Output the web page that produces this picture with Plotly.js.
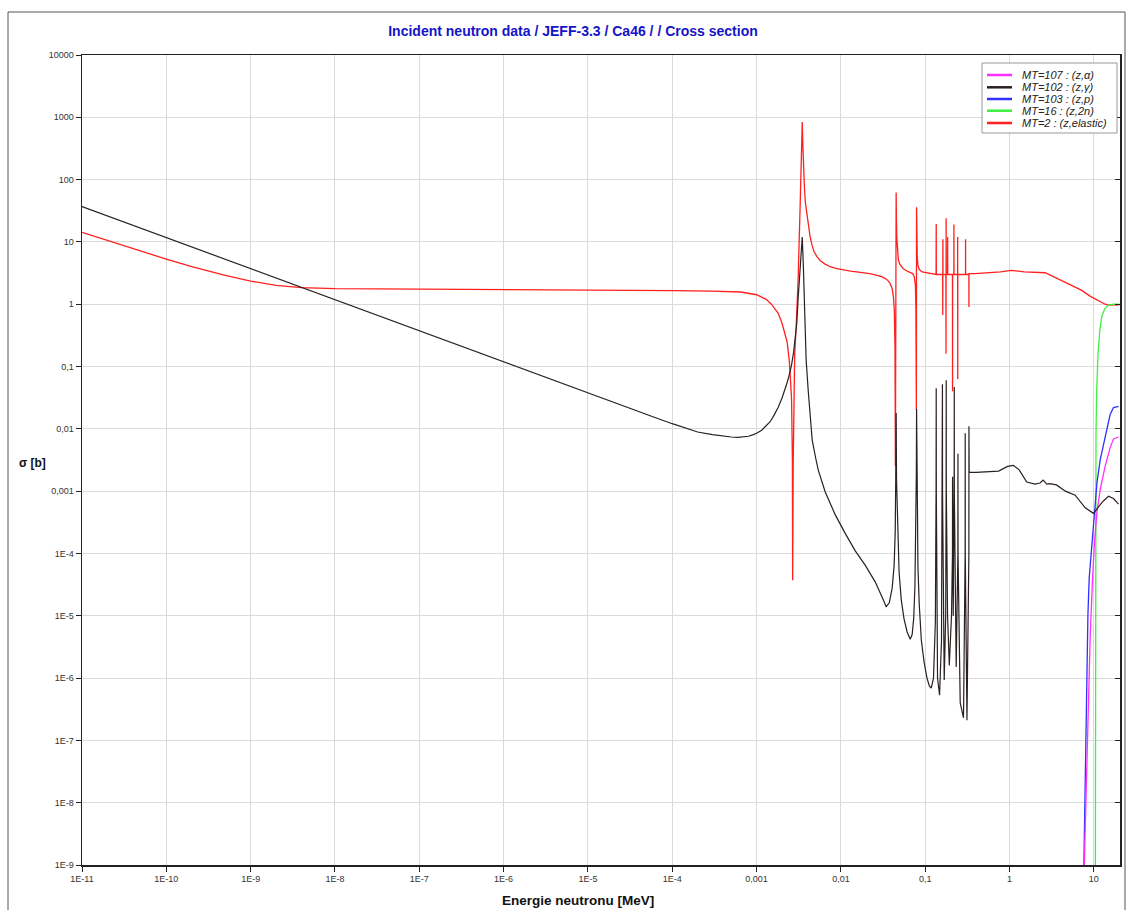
<!DOCTYPE html>
<html>
<head>
<meta charset="utf-8">
<script src="https://cdn.plot.ly/plotly-3.0.1.min.js"></script>
<style>html,body{margin:0;padding:0;background:#fff;}#chart{width:1130px;height:910px;}</style>
</head>
<body>
<div id="chart"></div>
<script>
// ---- Data (energy in MeV, cross section in barns) ----
const energyElastic = [1e-11, 2e-11, 5e-11, 1e-10, 2e-10, 5e-10, 1e-9, 2e-9, 4e-9, 1e-8,
  1e-7, 1e-6, 1e-5, 1e-4, 3e-4, 6.5e-4, 1e-3, 1.3e-3, 1.5e-3, 1.8e-3,
  2.0e-3, 2.3e-3, 2.45e-3, 2.6e-3, 2.66e-3, 2.68e-3, 2.72e-3, 2.76e-3, 2.83e-3, 2.95e-3,
  3.11e-3, 3.29e-3, 3.42e-3, 3.48e-3, 3.54e-3, 3.6e-3, 3.7e-3, 3.8e-3, 3.95e-3, 4.1e-3,
  4.3e-3, 4.55e-3, 4.8e-3, 5.2e-3, 5.7e-3, 6.5e-3, 7.5e-3, 8.7e-3, 0.01, 0.013,
  0.017, 0.022, 0.027, 0.031, 0.035, 0.038, 0.0405, 0.042, 0.043, 0.0438,
  0.0443, 0.0448, 0.0452, 0.0455, 0.046, 0.0468, 0.048, 0.05, 0.055, 0.06,
  0.066, 0.071, 0.074, 0.0765, 0.0775, 0.0785, 0.0790, 0.0795, 0.0805, 0.082,
  0.085, 0.092, 0.1345, 0.135, 0.1355, 0.161, 0.1615, 0.162, 0.1625, 0.176,
  0.1765, 0.177, 0.1775, 0.184, 0.1845, 0.185, 0.2105, 0.211, 0.2115, 0.2185,
  0.219, 0.2195, 0.242, 0.2425, 0.243, 0.2435, 0.3005, 0.301, 0.3015, 0.3295,
  0.33, 0.3305, 0.39, 0.78, 1.05, 1.5, 2.65, 4.0, 5.5, 7.2,
  9.0, 11.4, 13.6, 15.0, 20.0];
const sigmaElastic = [14.2, 10.5, 7.0, 5.3, 4.0, 2.9, 2.35, 2.0, 1.85, 1.78,
  1.75, 1.73, 1.7, 1.65, 1.62, 1.57, 1.42, 1.2, 1.0, 0.72,
  0.5, 0.25, 0.12, 0.03, 0.003, 3.7e-5, 0.003, 0.04, 0.15, 0.45,
  2.5, 40, 300, 840, 350, 160, 70, 42, 28, 18,
  12.5, 8.8, 7.0, 5.8, 5.0, 4.4, 4.0, 3.75, 3.6, 3.4,
  3.25, 3.1, 2.9, 2.75, 2.5, 2.2, 1.8, 1.3, 0.8, 0.2,
  0.0025, 5, 62, 25, 12, 7, 5.2, 4.4, 3.7, 3.45,
  3.3, 3.1, 2.8, 2.0, 0.9, 0.02, 36, 12, 5.5, 4.2,
  3.6, 3.3, 3.0, 19.4, 3.0, 3.0, 0.67, 11, 3.0, 3.0,
  0.16, 24, 3.0, 3.0, 12, 3.0, 3.0, 0.04, 3.0, 3.0,
  19, 3.0, 3.0, 12, 0.063, 3.0, 3.0, 11, 3.0, 3.0,
  0.9, 3.1, 3.1, 3.3, 3.5, 3.3, 3.2, 2.45, 2.0, 1.67,
  1.35, 1.13, 1.0, 0.97, 0.98];

const energyCapture = [1e-11, 1e-10, 1e-9, 1e-8, 1e-7, 1e-6, 1e-5, 3e-5, 6e-5, 1e-4,
  1.5e-4, 2e-4, 3e-4, 4e-4, 5e-4, 6e-4, 7e-4, 8e-4, 9e-4, 1e-3,
  1.15e-3, 1.3e-3, 1.45e-3, 1.6e-3, 1.8e-3, 2e-3, 2.15e-3, 2.3e-3, 2.45e-3, 2.6e-3,
  2.75e-3, 2.9e-3, 3.0e-3, 3.1e-3, 3.2e-3, 3.3e-3, 3.38e-3, 3.48e-3, 3.58e-3, 3.67e-3,
  3.87e-3, 4.09e-3, 4.3e-3, 4.57e-3, 5.0e-3, 5.38e-3, 6.52e-3, 8.55e-3, 0.01125, 0.0148,
  0.0194, 0.0255, 0.0318, 0.0344, 0.0374, 0.0406, 0.0428, 0.0441, 0.0447, 0.0452,
  0.0457, 0.0466, 0.0475, 0.049, 0.052, 0.056, 0.061, 0.0664, 0.070, 0.073,
  0.0755, 0.077, 0.0785, 0.079, 0.0798, 0.0805, 0.082, 0.085, 0.09, 0.097,
  0.105, 0.112, 0.1178, 0.1253, 0.132, 0.1345, 0.135, 0.1355, 0.140, 0.148,
  0.156, 0.1595, 0.160, 0.1605, 0.168, 0.175, 0.177, 0.1775, 0.178, 0.184,
  0.193, 0.205, 0.2105, 0.211, 0.2115, 0.215, 0.2205, 0.221, 0.2215, 0.233,
  0.244, 0.2445, 0.245, 0.260, 0.2845, 0.2975, 0.298, 0.2985, 0.3126, 0.3295,
  0.33, 0.332, 0.4, 0.74, 0.95, 1.11, 1.3, 1.6, 2.0, 2.3,
  2.5, 2.77, 3.0, 3.6, 4.6, 6.0, 7.9, 9.9, 12.5, 14.9,
  17.1, 19.6];
const sigmaCapture = [37, 11.7, 3.7, 1.17, 0.37, 0.117, 0.037, 0.0215, 0.0155, 0.0121,
  0.0101, 0.0089, 0.0081, 0.0076, 0.0074, 0.0073, 0.0074, 0.0076, 0.008, 0.0085,
  0.0095, 0.011, 0.013, 0.0163, 0.022, 0.031, 0.041, 0.055, 0.075, 0.106,
  0.17, 0.3, 0.5, 1.15, 2.4, 5.1, 8, 12, 4.5, 1.15,
  0.13, 0.042, 0.017, 0.0066, 0.0035, 0.0022, 9.7e-4, 4.2e-4, 2.1e-4, 1.1e-4,
  6.5e-5, 3.5e-5, 1.8e-5, 1.4e-5, 1.6e-5, 2.8e-5, 6.5e-5, 2.3e-4, 0.0015, 0.018,
  0.0015, 5e-4, 1.5e-4, 5e-5, 1.8e-5, 9e-6, 5.5e-6, 4.2e-6, 5e-6, 9e-6,
  3e-5, 1.5e-4, 0.002, 0.021, 0.002, 4e-4, 6e-5, 1.5e-5, 4e-6, 1.8e-6,
  1e-6, 7.5e-7, 6.9e-7, 1e-6, 8e-6, 0.001, 0.045, 0.001, 1e-6, 5.3e-7,
  4e-6, 0.001, 0.052, 0.001, 9.3e-7, 1e-5, 0.001, 0.06, 0.001, 1e-5,
  1.6e-6, 1e-5, 1e-4, 0.0017, 1e-4, 1e-5, 0.002, 0.047, 0.001, 1.5e-6,
  1e-4, 0.004, 1e-4, 4e-7, 2.3e-7, 1e-4, 0.0085, 1e-4, 2.1e-7, 1e-4,
  0.011, 0.002, 0.002, 0.0021, 0.0025, 0.0026, 0.0022, 0.0014, 0.0013, 0.00135,
  0.0015, 0.0013, 0.00132, 0.00126, 0.001, 8.6e-4, 5.4e-4, 4.4e-4, 6.6e-4, 8.3e-4,
  7.6e-4, 6.2e-4];

const energyProton = [7.55, 8.04, 8.5, 8.8, 9.5, 10.1, 10.9, 11.9, 13.0, 14.3, 15.6, 17.1, 19.6];
const sigmaProton = [5e-10, 1.6e-7, 1e-5, 4e-5, 1.6e-4, 4.7e-4, 1.4e-3, 3.2e-3, 5.6e-3, 0.01, 0.017, 0.022, 0.023];

const energyAlpha = [7.6, 8.27, 9.06, 9.66, 10.2, 10.9, 11.9, 13.6, 15.6, 17.1, 19.6];
const sigmaAlpha = [5e-10, 4e-8, 5e-6, 4e-5, 1.6e-4, 4.7e-4, 1.07e-3, 2.5e-3, 5e-3, 6.9e-3, 7.4e-3];

const energyN2n = [10.4, 10.45, 10.6, 10.8, 11.2, 11.8, 12.4, 13.5, 14.9, 17.0, 20.0];
const sigmaN2n = [1e-10, 1e-3, 0.008, 0.04, 0.16, 0.4, 0.63, 0.85, 0.97, 1.0, 1.0];

const xTickValues = [1e-11, 1e-10, 1e-9, 1e-8, 1e-7, 1e-6, 1e-5, 1e-4, 1e-3, 1e-2, 1e-1, 1, 10];
const xTickLabels = ['1E-11', '1E-10', '1E-9', '1E-8', '1E-7', '1E-6', '1E-5', '1E-4', '0,001', '0,01', '0,1', '1', '10'];
const yTickValues = [1e-9, 1e-8, 1e-7, 1e-6, 1e-5, 1e-4, 1e-3, 1e-2, 1e-1, 1, 10, 100, 1000, 10000];
const yTickLabels = ['1E-9', '1E-8', '1E-7', '1E-6', '1E-5', '1E-4', '0,001', '0,01', '0,1', '1', '10', '100', '1000', '10000'];

const seriesNames = ['MT=107 : (z,α)', 'MT=102 : (z,γ)', 'MT=103 : (z,p)', 'MT=16 : (z,2n)', 'MT=2 : (z,elastic)'];
const seriesColors = ['#ff30ff', '#2a2020', '#3030ff', '#40f040', '#ff2020'];

// ---- Traces ----
const traces = [
  {x: energyElastic, y: sigmaElastic, name: seriesNames[4], line: {color: seriesColors[4], width: 1.3}},
  {x: energyN2n, y: sigmaN2n, name: seriesNames[3], line: {color: seriesColors[3], width: 1.3}},
  {x: energyProton, y: sigmaProton, name: seriesNames[2], line: {color: seriesColors[2], width: 1.3}},
  {x: energyAlpha, y: sigmaAlpha, name: seriesNames[0], line: {color: seriesColors[0], width: 1.3}},
  {x: energyCapture, y: sigmaCapture, name: seriesNames[1], line: {color: seriesColors[1], width: 1.2}}
].map(t => Object.assign({type: 'scatter', mode: 'lines', showlegend: false, hoverinfo: 'skip'}, t));
// empty helper trace so the right-hand tick axis is drawn
traces.push({type: 'scatter', mode: 'lines', x: [], y: [], yaxis: 'y2', showlegend: false, hoverinfo: 'skip'});

// ---- Layout helpers (pixel -> paper) ----
const W = 1130, H = 910, L = 82, R = 10, T = 55, B = 45;
const pw = W - L - R, ph = H - T - B;
const px = v => (v - L) / pw;
const py = v => (H - B - v) / ph;
const FONT = 'Liberation Sans, Arial, sans-serif';

const shapes = [
  {type: 'rect', xref: 'paper', yref: 'paper', x0: px(8), x1: px(1125), y0: py(918), y1: py(12),
   line: {color: '#555', width: 1}, fillcolor: 'rgba(0,0,0,0)', layer: 'below'},
  {type: 'rect', xref: 'paper', yref: 'paper', x0: px(982), x1: px(1117), y0: py(133), y1: py(63),
   line: {color: '#999', width: 1}, fillcolor: '#ffffff', layer: 'above'}
];
const annotations = [];
const legendY = [75, 87.3, 99, 110.7, 123];
seriesNames.forEach((nm, i) => {
  shapes.push({type: 'line', xref: 'paper', yref: 'paper', x0: px(987), x1: px(1012),
    y0: py(legendY[i]), y1: py(legendY[i]), line: {color: seriesColors[i], width: 2.5}, layer: 'above'});
  annotations.push({xref: 'paper', yref: 'paper', x: px(1020), y: py(legendY[i]), xanchor: 'left', yanchor: 'middle',
    text: '<i>' + nm + '</i>', showarrow: false, font: {family: FONT, size: 11, color: '#222'}});
});
annotations.push({xref: 'paper', yref: 'paper', x: px(578), y: py(900), xanchor: 'center', yanchor: 'middle',
  text: '<b>Energie neutronu [MeV]</b>', showarrow: false, font: {family: FONT, size: 13.5, color: '#111'}});
annotations.push({xref: 'paper', yref: 'paper', x: px(32), y: py(463), xanchor: 'center', yanchor: 'middle',
  text: '<b>σ [b]</b>', showarrow: false, font: {family: FONT, size: 12, color: '#111'}});

const axisCommon = {
  type: 'log', showline: true, linecolor: '#222', linewidth: 1.5, mirror: true,
  ticks: 'outside', ticklen: 5, tickcolor: '#222', tickwidth: 1,
  showgrid: true, gridcolor: '#dadada', gridwidth: 1,
  tickfont: {family: FONT, size: 9, color: '#333'},
  tickmode: 'array'
};

const layout = {
  width: W, height: H,
  margin: {l: L, r: R, t: T, b: B, pad: 0},
  paper_bgcolor: '#ffffff', plot_bgcolor: '#ffffff',
  title: {text: '<b>Incident neutron data / JEFF-3.3 / Ca46 / / Cross section</b>',
    xref: 'container', yref: 'container', x: 573 / W, y: 1 - 31 / H, xanchor: 'center', yanchor: 'middle',
    font: {family: FONT, size: 14, color: '#1414c8'}},
  xaxis: Object.assign({}, axisCommon, {range: [-11, 1.31], tickvals: xTickValues, ticktext: xTickLabels}),
  yaxis: Object.assign({}, axisCommon, {range: [-9, 4], tickvals: yTickValues, ticktext: yTickLabels}),
  yaxis2: {type: 'log', overlaying: 'y', side: 'right', range: [-9, 4], tickmode: 'array', tickvals: yTickValues,
    showticklabels: false, ticks: 'inside', ticklen: 5, tickcolor: '#222', showgrid: false, zeroline: false,
    showline: false},
  shapes: shapes,
  annotations: annotations,
  showlegend: false
};

Plotly.newPlot('chart', traces, layout, {displayModeBar: false, staticPlot: true});
</script>
</body>
</html>
